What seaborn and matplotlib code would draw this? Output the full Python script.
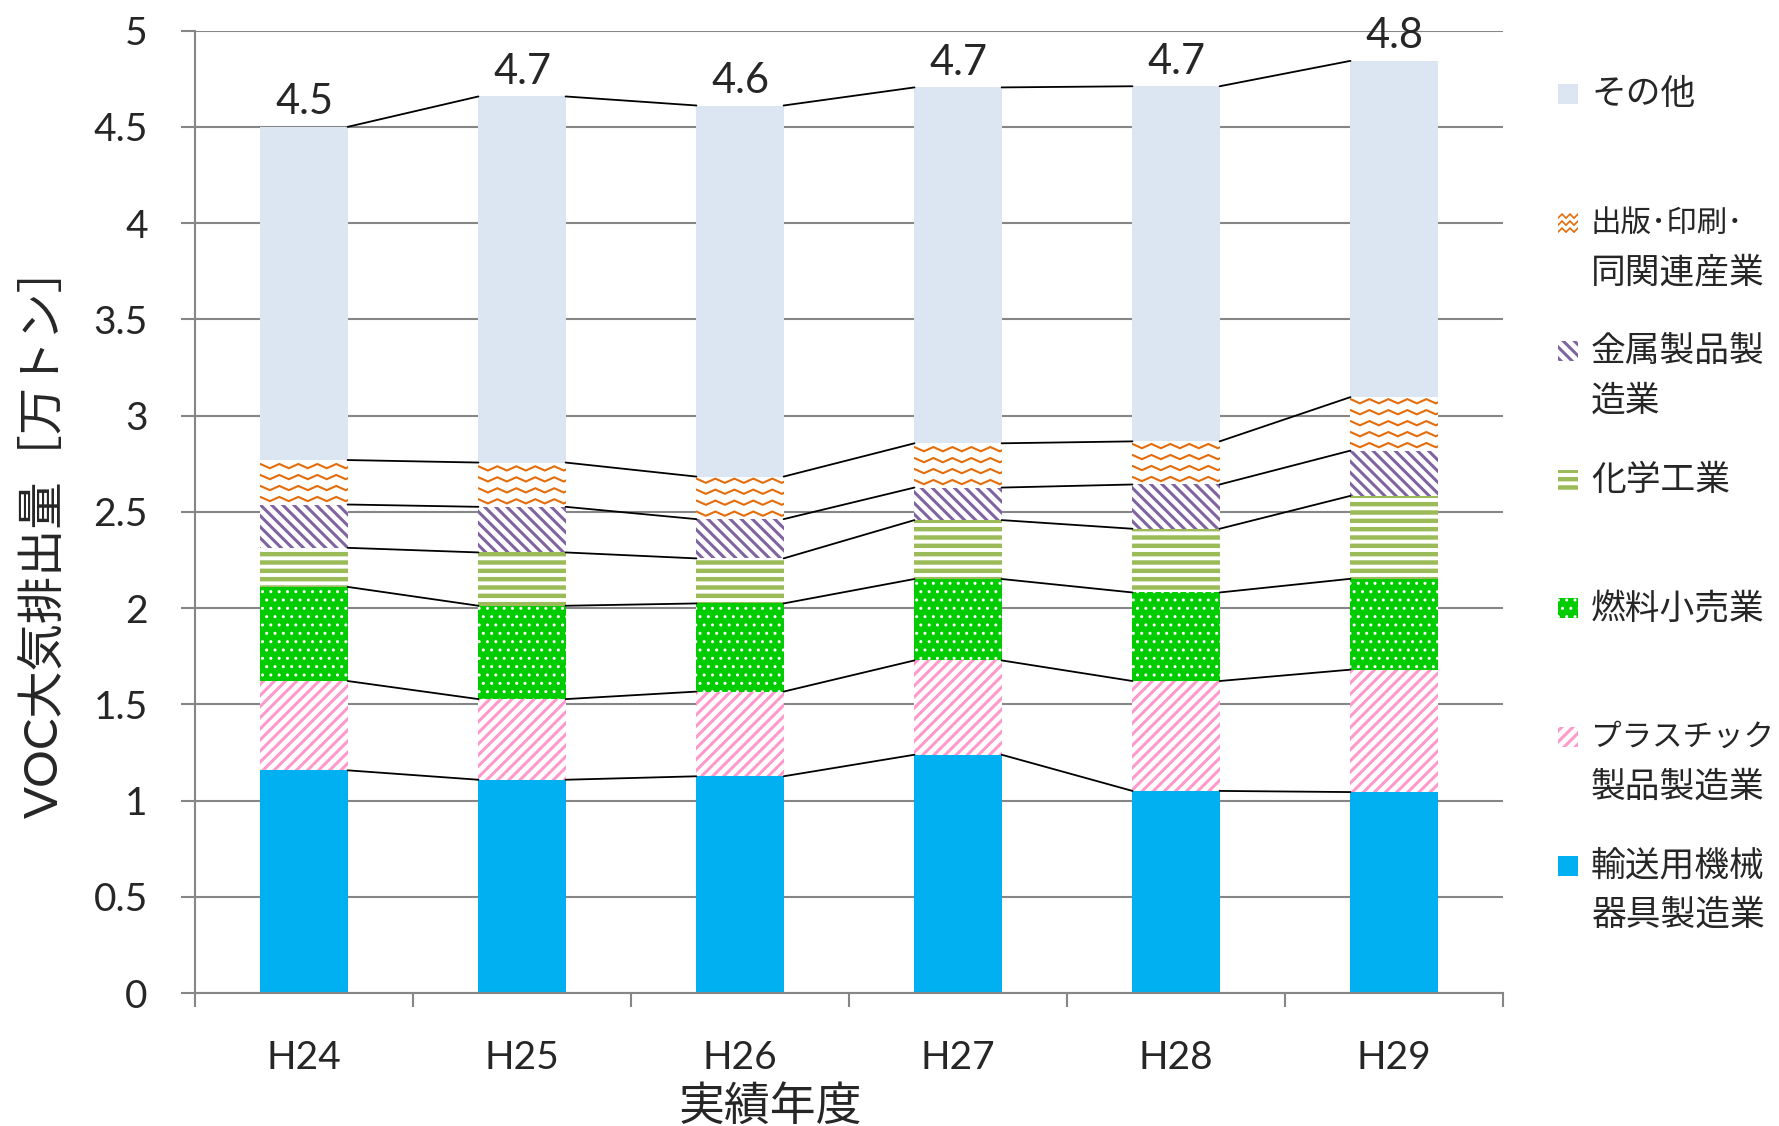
import numpy as np
import pandas as pd
import matplotlib
matplotlib.use("Agg")
import matplotlib.pyplot as plt
from matplotlib.patches import Rectangle
from matplotlib.ticker import FuncFormatter, MultipleLocator
import seaborn as sns

# -----------------------------
# data (万トン)
# -----------------------------
years = ["H24", "H25", "H26", "H27", "H28", "H29"]

transport = [1.157, 1.108, 1.126, 1.238, 1.050, 1.044]
plastic = [0.464, 0.419, 0.440, 0.490, 0.571, 0.636]
fuel = [0.489, 0.485, 0.458, 0.423, 0.460, 0.472]
chemical = [0.203, 0.277, 0.234, 0.306, 0.331, 0.431]
metal = [0.225, 0.237, 0.204, 0.169, 0.230, 0.235]
printing = [0.231, 0.230, 0.221, 0.230, 0.224, 0.278]
other = [1.731, 1.902, 1.928, 1.849, 1.845, 1.747]

labels = {
    "transport": "輸送用機械\n器具製造業",
    "plastic": "プラスチック\n製品製造業",
    "fuel": "燃料小売業",
    "chemical": "化学工業",
    "metal": "金属製品製\n造業",
    "printing": "出版･印刷･\n同関連産業",
    "other": "その他",
}

df = pd.DataFrame({
    "transport": transport,
    "plastic": plastic,
    "fuel": fuel,
    "chemical": chemical,
    "metal": metal,
    "printing": printing,
    "other": other,
}, index=years)
cum = df.cumsum(axis=1)
totals = cum["other"].values

# face, hatch colour, hatch
ORANGE = "#E46C0A"
styles = {
    "transport": ("#00B0F0", "#00B0F0", None),
    "plastic": ("white", "#FF99CC", "///"),
    "fuel": ("#00CC00", "white", ".."),
    "chemical": ("white", "#9BBB59", "--"),
    "metal": ("white", "#8064A2", "\\\\\\"),
    "printing": ("white", ORANGE, None),
    "other": ("#DCE6F2", "#DCE6F2", None),
}
hatch_lw = {"plastic": 2.2, "fuel": 1.0, "chemical": 3.2, "metal": 2.2}

sns.set_theme(style="ticks")
plt.rcParams["font.family"] = ["Lato", "Noto Sans CJK JP"]
plt.rcParams["hatch.linewidth"] = 2.2

GRAY = "#868686"


def style_patch(p, key):
    face, hcol, hatch = styles[key]
    p.set_facecolor(face)
    p.set_edgecolor(hcol)
    p.set_linewidth(0)
    if hatch:
        p.set_hatch(hatch)
        if hasattr(p, "set_hatch_linewidth"):
            p.set_hatch_linewidth(hatch_lw.get(key, 2.2))


def add_waves(target, x0, x1, y0, y1, period, step, amp, lw):
    xs = np.arange(x0, x1 + period, period / 2)
    sign = np.where(np.arange(len(xs)) % 2 == 0, 1, -1)
    clip = Rectangle((x0, y0), x1 - x0, y1 - y0, transform=target.transData)
    for yy in np.arange(y0 + step / 2, y1, step):
        line, = target.plot(xs, yy + amp * sign, color=ORANGE, lw=lw,
                            zorder=1, solid_joinstyle="miter")
        line.set_clip_path(clip)


fig, ax = plt.subplots(figsize=(17.79, 11.26), dpi=100)
fig.subplots_adjust(left=0.1096, right=0.8449, bottom=0.1181, top=0.9728)

# stacked bars: draw cumulative totals from the top down
keys = list(df.columns)
for j in range(len(keys) - 1, -1, -1):
    key = keys[j]
    n0 = len(ax.patches)
    sns.barplot(x=years, y=cum[key].values, width=0.4, color=styles[key][0],
                errorbar=None, ax=ax)
    for p in ax.patches[n0:]:
        style_patch(p, key)
    if key == "printing":
        lower = cum["metal"].values
        upper = cum["printing"].values
        for i in range(len(years)):
            add_waves(ax, i - 0.2, i + 0.2, lower[i], upper[i],
                      period=0.087, step=0.057, amp=0.011, lw=1.5)

# series lines between bars
for key in keys:
    vals = cum[key].values
    for i in range(len(years) - 1):
        ax.plot([i + 0.2, i + 0.8], [vals[i], vals[i + 1]],
                color="black", lw=1.3, zorder=3)

# total labels
for i, t in enumerate(totals):
    ax.annotate(f"{t:.1f}", (i, t), xytext=(0, 4), textcoords="offset points",
                ha="center", va="bottom", fontsize=30)

ax.set_xlim(-0.5, 5.5)
ax.set_ylim(0, 5)
ax.yaxis.set_major_locator(MultipleLocator(0.5))
ax.yaxis.set_major_formatter(FuncFormatter(lambda v, _: f"{v:g}"))
ax.set_xticks(range(len(years)))
ax.set_xticklabels(years)
ax.set_xticks(np.arange(-0.5, len(years), 1), minor=True)

ax.yaxis.grid(True, color=GRAY, lw=1.5)
ax.set_axisbelow(True)
sns.despine(ax=ax)
for side in ["left", "bottom"]:
    ax.spines[side].set_color(GRAY)
    ax.spines[side].set_linewidth(1.5)

ax.tick_params(axis="x", which="major", length=0, pad=34, labelsize=28)
ax.tick_params(axis="x", which="minor", bottom=True, length=10, width=1.5,
               color=GRAY)
ax.tick_params(axis="y", left=True, length=10, width=1.5, color=GRAY, pad=24,
               labelsize=28)

ax.set_xlabel("実績年度", fontsize=33)
ax.xaxis.set_label_coords(0.44, -0.1175)
ax.xaxis.label.set_va("center")
ax.set_ylabel("VOC大気排出量［万トン］", fontsize=34)
ax.yaxis.set_label_coords(-0.116, 0.48)
ax.yaxis.label.set_va("center")

# legend drawn by hand (pixel coordinates), top entry = その他
lax = fig.add_axes([0, 0, 1, 1])
lax.set_xlim(0, 1779)
lax.set_ylim(1126, 0)
lax.axis("off")

for k, key in enumerate(reversed(keys)):
    yc = 94 + k * 128.6
    rect = Rectangle((1558, yc - 10), 20, 20)
    style_patch(rect, key)
    lax.add_patch(rect)
    if key == "printing":
        add_waves(lax, 1558, 1578, yc - 10, yc + 10,
                  period=8, step=7, amp=2, lw=1.2)
    for j, line in enumerate(labels[key].split("\n")):
        size = 22 if len(line) > 5 else 25
        lax.text(1591, yc + j * 49, line, ha="left", va="center",
                 fontsize=size)

plt.savefig("out.png", dpi=100)
plt.close()
